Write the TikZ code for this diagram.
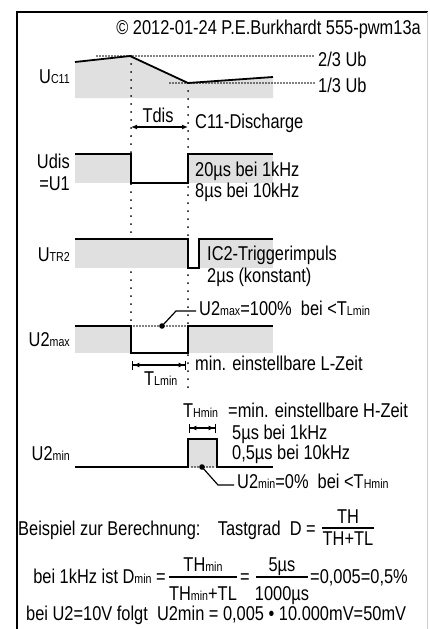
\documentclass[tikz,border=0pt]{standalone}
\usepackage{fontspec}
\setmainfont{Liberation Sans}[FakeStretch=0.82]
\usetikzlibrary{arrows.meta}
\definecolor{band}{gray}{0.88}
\newcommand{\klein}[1]{{\fontsize{13pt}{15pt}\selectfont #1}}

\begin{document}
\begin{tikzpicture}[x=1pt,y=-1pt,
    wave/.style={line width=1.8pt},
    guide/.style={line width=2pt, line cap=round, dash pattern=on 0pt off 8pt},
    level/.style={line width=1.6pt, line cap=round, dash pattern=on 0pt off 3pt},
    lbl/.style={inner sep=0pt, anchor=base west, font=\fontsize{20pt}{23pt}\selectfont},
    ylbl/.style={lbl, anchor=base east},
    frac/.style={lbl, anchor=base},
    span/.style={line width=1.4pt, {Latex[length=6pt,width=5pt]}-{Latex[length=6pt,width=5pt]}},
    barspan/.style={line width=1.4pt, {Bar[width=9pt]Latex[length=6pt,width=5pt]}-{Latex[length=6pt,width=5pt]Bar[width=9pt]}}]
    \useasboundingbox (0,0) rectangle (429,629);
    \draw[line width=2pt] (17,629) -- (17,12) -- (428,12);
    \draw[black!20, line width=0.6pt] (427.5,12) -- (427.5,629);

    \node[lbl, anchor=base east] (copy) at (421,34) {© 2012-01-24 P.E.Burkhardt 555-pwm13a};

    % UC11
    \fill[band] (75,62) -- (130,56) -- (188,83) -- (273,77) -- (273,98) -- (75,98) -- cycle;
    \draw[level] (97,56) -- (313,56);
    \draw[level] (170,83) -- (315,83);
    \draw[wave] (75,62) -- (130,56) -- (188,83) -- (273,77);
    \node[ylbl] (uc11) at (70,83) {U\klein{C11}};
    \node[lbl] (ob) at (318,66) {2/3 Ub};
    \node[lbl] (unt) at (318,92) {1/3 Ub};

    \draw[guide] (131,56) -- (131,326);
    \draw[guide] (188,83) -- (188,393);
    \draw[span] (131,127) -- (188,127);
    \node[lbl, anchor=base] (tdis) at (158,122) {Tdis};
    \node[lbl] (disch) at (195,128) {C11-Discharge};

    % Udis
    \fill[band] (75,154) rectangle (131,183);
    \fill[band] (188,154) rectangle (273,183);
    \draw[wave] (75,154) -- (131,154) -- (131,183) -- (188,183) -- (188,154) -- (273,154);
    \node[ylbl] (udis) at (70,168) {Udis};
    \node[ylbl] (ueins) at (70,190) {=U1};
    \node[lbl] (zwanzig) at (195,176) {20µs bei 1kHz};
    \node[lbl] (acht) at (195,197) {8µs bei 10kHz};

    % UTR2
    \fill[band] (75,239) rectangle (188,268);
    \fill[band] (199,239) rectangle (273,268);
    \draw[wave] (75,239) -- (188,239) -- (188,268) -- (199,268) -- (199,239) -- (273,239);
    \node[ylbl] (utr) at (70,261) {U\klein{TR2}};
    \node[lbl] (trig) at (207,260) {IC2-Triggerimpuls};
    \node[lbl] (konst) at (207,282) {2µs (konstant)};

    % U2max
    \fill[band] (75,326) rectangle (131,353);
    \fill[band] (188,326) rectangle (273,353);
    \draw[level] (131,326) -- (188,326);
    \draw[wave] (75,326) -- (131,326) -- (131,353) -- (188,353) -- (188,326) -- (273,326);
    \fill (162,326) circle (2.8pt) coordinate (maxdot);
    \node[ylbl] (umax) at (70,346) {U2\klein{max}};
    \node[lbl] (maxtxt) at (199,315) {U2\klein{max}=100\%\ \ bei <T\klein{Lmin}};
    \draw[line width=1.2pt] (maxdot) -- (176,311) -- ([xshift=-3pt]maxtxt.west |- 0,311);
    \draw[barspan] (132,365) -- (186,365);
    \node[lbl] (lzeit) at (195,370) {min. einstellbare L-Zeit};
    \node[lbl] (tlmin) at (144,385) {T\klein{Lmin}};

    % U2min
    \fill[band] (188,439) rectangle (217,467);
    \draw[wave] (75,467) -- (188,467) -- (188,439) -- (217,439) -- (217,467) -- (273,467);
    \draw[level, band] (190,467) -- (215,467);
    \draw[level] (192,467) -- (214,467);
    \fill (202,467) circle (2.8pt) coordinate (mindot);
    \node[ylbl] (umin) at (70,460) {U2\klein{min}};
    \node[lbl] (thmin) at (183,417) {T\klein{Hmin}};
    \node[lbl] (hzeit) at (228,417) {=min. einstellbare H-Zeit};
    \draw[barspan] (189,428) -- (216,428);
    \node[lbl] (fuenf) at (232,439) {5µs bei 1kHz};
    \node[lbl] (halb) at (232,459) {0,5µs bei 10kHz};
    \node[lbl] (mintxt) at (237,488) {U2\klein{min}=0\%\ \ bei <T\klein{Hmin}};
    \draw[line width=1.2pt] (mindot) -- (218,485) -- ([xshift=-3pt]mintxt.west |- 0,485);

    % Berechnung
    \node[lbl] (bsp) at (18,535) {Beispiel zur Berechnung:};
    \node[lbl, anchor=base east] (tast) at (316,535) {Tastgrad\ \ D =};
    \node[frac] (th) at (348,523) {TH};
    \node[frac] (thtl) at (348,545) {TH+TL};
    \draw[line width=1.3pt] (322,528) -- (374,528);
    \node[lbl, anchor=base east] (beieins) at (166,583) {bei 1kHz ist D\klein{min} =};
    \node[frac] (zthmin) at (203,571) {TH\klein{min}};
    \node[frac] (nthmin) at (203,600) {TH\klein{min}+TL};
    \draw[line width=1.3pt] (169,577) -- (237,577);
    \node[lbl] (gleich) at (240,583) {=};
    \node[frac] (zfuenf) at (282,571) {5µs};
    \node[frac] (ntausend) at (282,600) {1000µs};
    \draw[line width=1.3pt] (256,577) -- (308,577);
    \node[lbl] (erg) at (310,583) {=0,005=0,5\%};
    \node[lbl] (beizwei) at (26,620) {bei U2=10V folgt\ \ U2min = 0,005 • 10.000mV=50mV};
\end{tikzpicture}
\end{document}
